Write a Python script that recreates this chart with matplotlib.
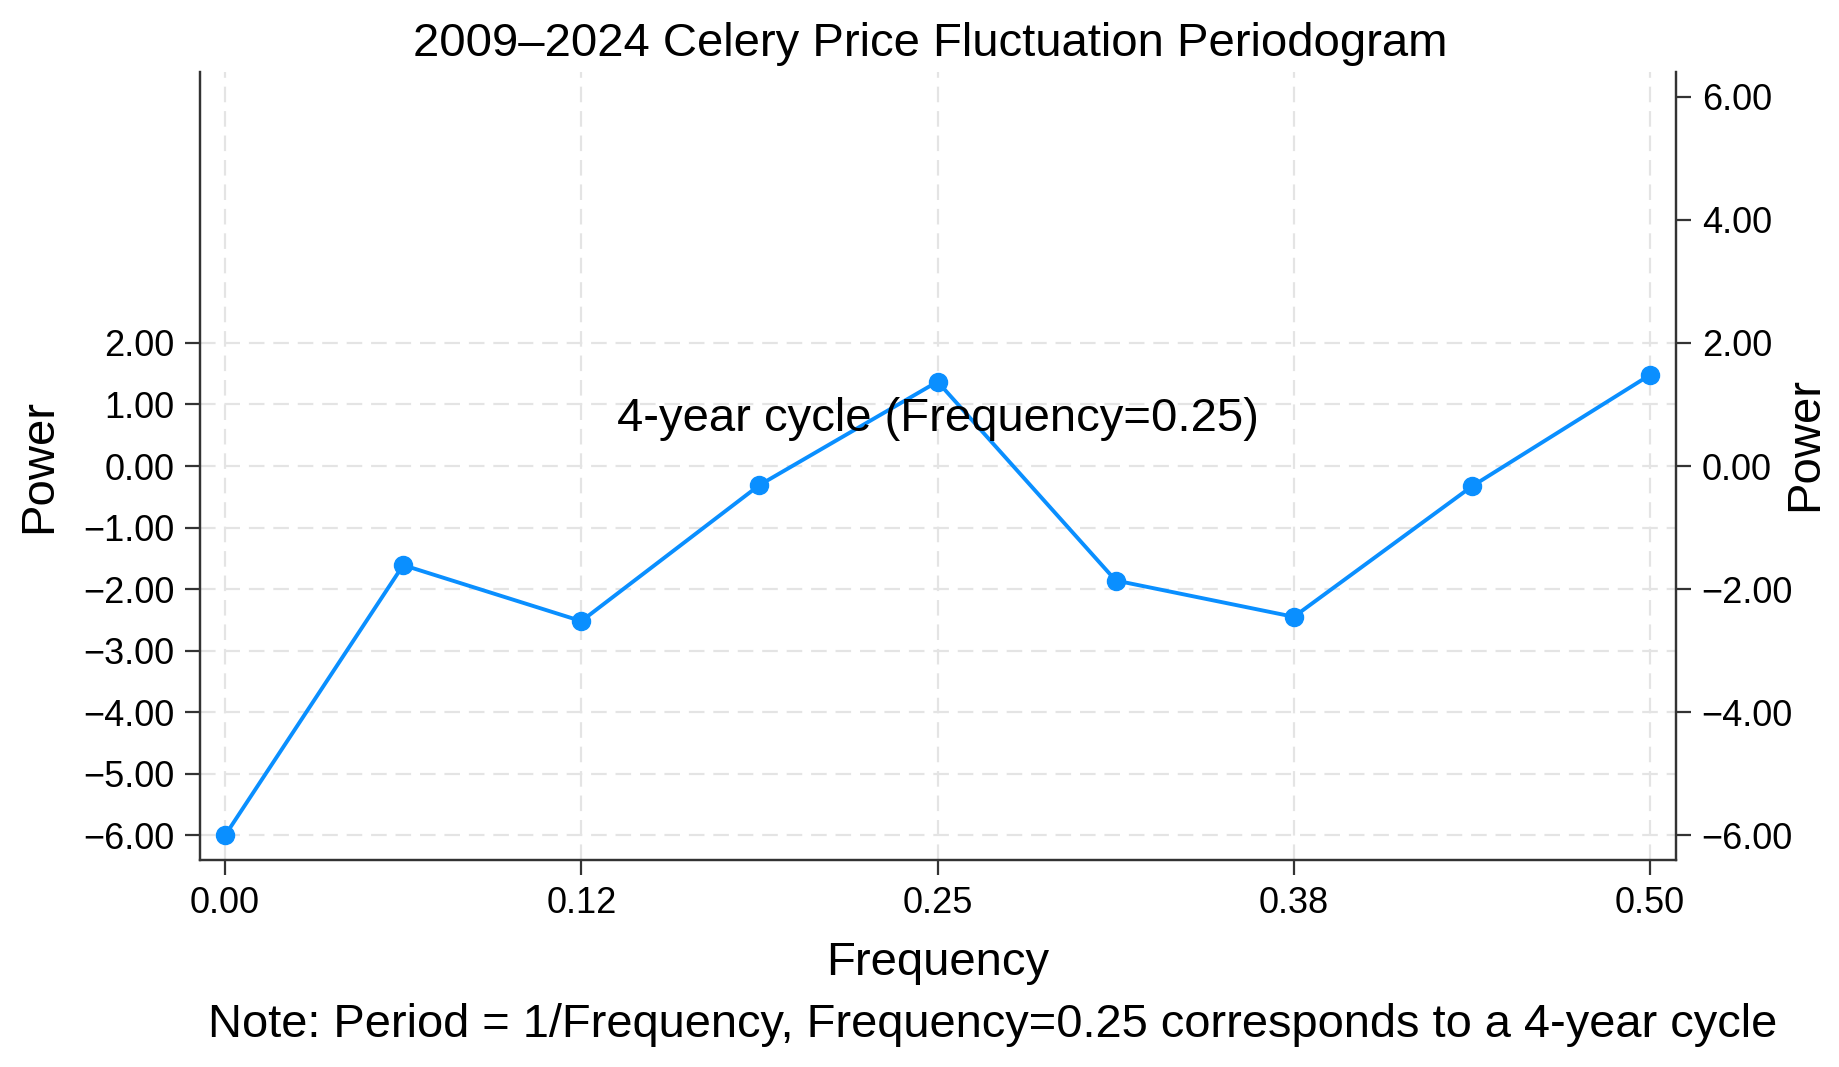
import numpy as np
import matplotlib
matplotlib.use('Agg')
import matplotlib.pyplot as plt
from matplotlib.ticker import FuncFormatter

plt.rcParams['font.family'] = ['Liberation Sans', 'DejaVu Sans']

# Periodogram values
frequency = [0.0, 0.0625, 0.125, 0.1875, 0.25, 0.3125, 0.375, 0.4375, 0.5]
power = [-6.00, -1.61, -2.52, -0.31, 1.37, -1.86, -2.45, -0.33, 1.48]

x_ticks = [0.0, 0.125, 0.25, 0.375, 0.5]
left_ticks = [-6, -5, -4, -3, -2, -1, 0, 1, 2]
right_ticks = [-6, -4, -2, 0, 2, 4, 6]

line_color = '#0a8fff'
spine_color = '#333333'
grid_color = '#e4e4e4'


def fmt2(v, pos):
    return ('%.2f' % v).replace('-', '\u2212')


fig = plt.figure(figsize=(18.4, 10.67), dpi=100)
ax = fig.add_axes([200 / 1840, 1 - 860 / 1067, 1476 / 1840, 788 / 1067])
ax2 = ax.twinx()

# grid (left axis ticks + x ticks only)
for y in left_ticks:
    ax.axhline(y, color=grid_color, lw=1.6, ls=(0, (7, 4)), zorder=0)
for x in x_ticks:
    ax.axvline(x, color=grid_color, lw=1.6, ls=(0, (7, 4)), zorder=0)

ax.plot(frequency, power, color=line_color, lw=2.8, marker='o', ms=13,
        zorder=3, clip_on=False)

ax.set_xlim(-0.0088, 0.5091)
ax.set_ylim(-6.4, 6.4)
ax2.set_ylim(-6.4, 6.4)

ax.set_xticks(x_ticks)
ax.xaxis.set_major_formatter(FuncFormatter(fmt2))
ax.set_yticks(left_ticks)
ax.yaxis.set_major_formatter(FuncFormatter(fmt2))
ax2.set_yticks(right_ticks)
ax2.yaxis.set_major_formatter(FuncFormatter(fmt2))

for a in (ax, ax2):
    a.spines['top'].set_visible(False)
    for s in ('left', 'right', 'bottom'):
        a.spines[s].set_color(spine_color)
        a.spines[s].set_linewidth(1.6)
    a.tick_params(axis='both', labelsize=26, length=10.5, width=1.6,
                  color=spine_color, pad=8)

ax.set_xlabel('Frequency', fontsize=34)
ax.xaxis.label.set_va('center')
ax.xaxis.set_label_coords(0.5, -0.131)
ax.set_ylabel('Power', fontsize=34)
ax.yaxis.label.set_va('center')
ax.yaxis.set_label_coords(-0.109, 0.5)
ax2.set_ylabel('Power', fontsize=34)
ax2.yaxis.label.set_va('center')
ax2.yaxis.set_label_coords(1.0874, 0.528)

ax.text(0.25, 0.77, '4-year cycle (Frequency=0.25)', fontsize=34,
        ha='center', va='center', zorder=4)

fig.text(930 / 1840, 1 - 44 / 1067, '2009\u20132024 Celery Price Fluctuation Periodogram',
         fontsize=34, ha='center', va='center')
fig.text(993 / 1840, 1 - 1025 / 1067,
         'Note: Period = 1/Frequency, Frequency=0.25 corresponds to a 4-year cycle',
         fontsize=33.8, ha='center', va='center')

fig.savefig('out.png', dpi=100)
